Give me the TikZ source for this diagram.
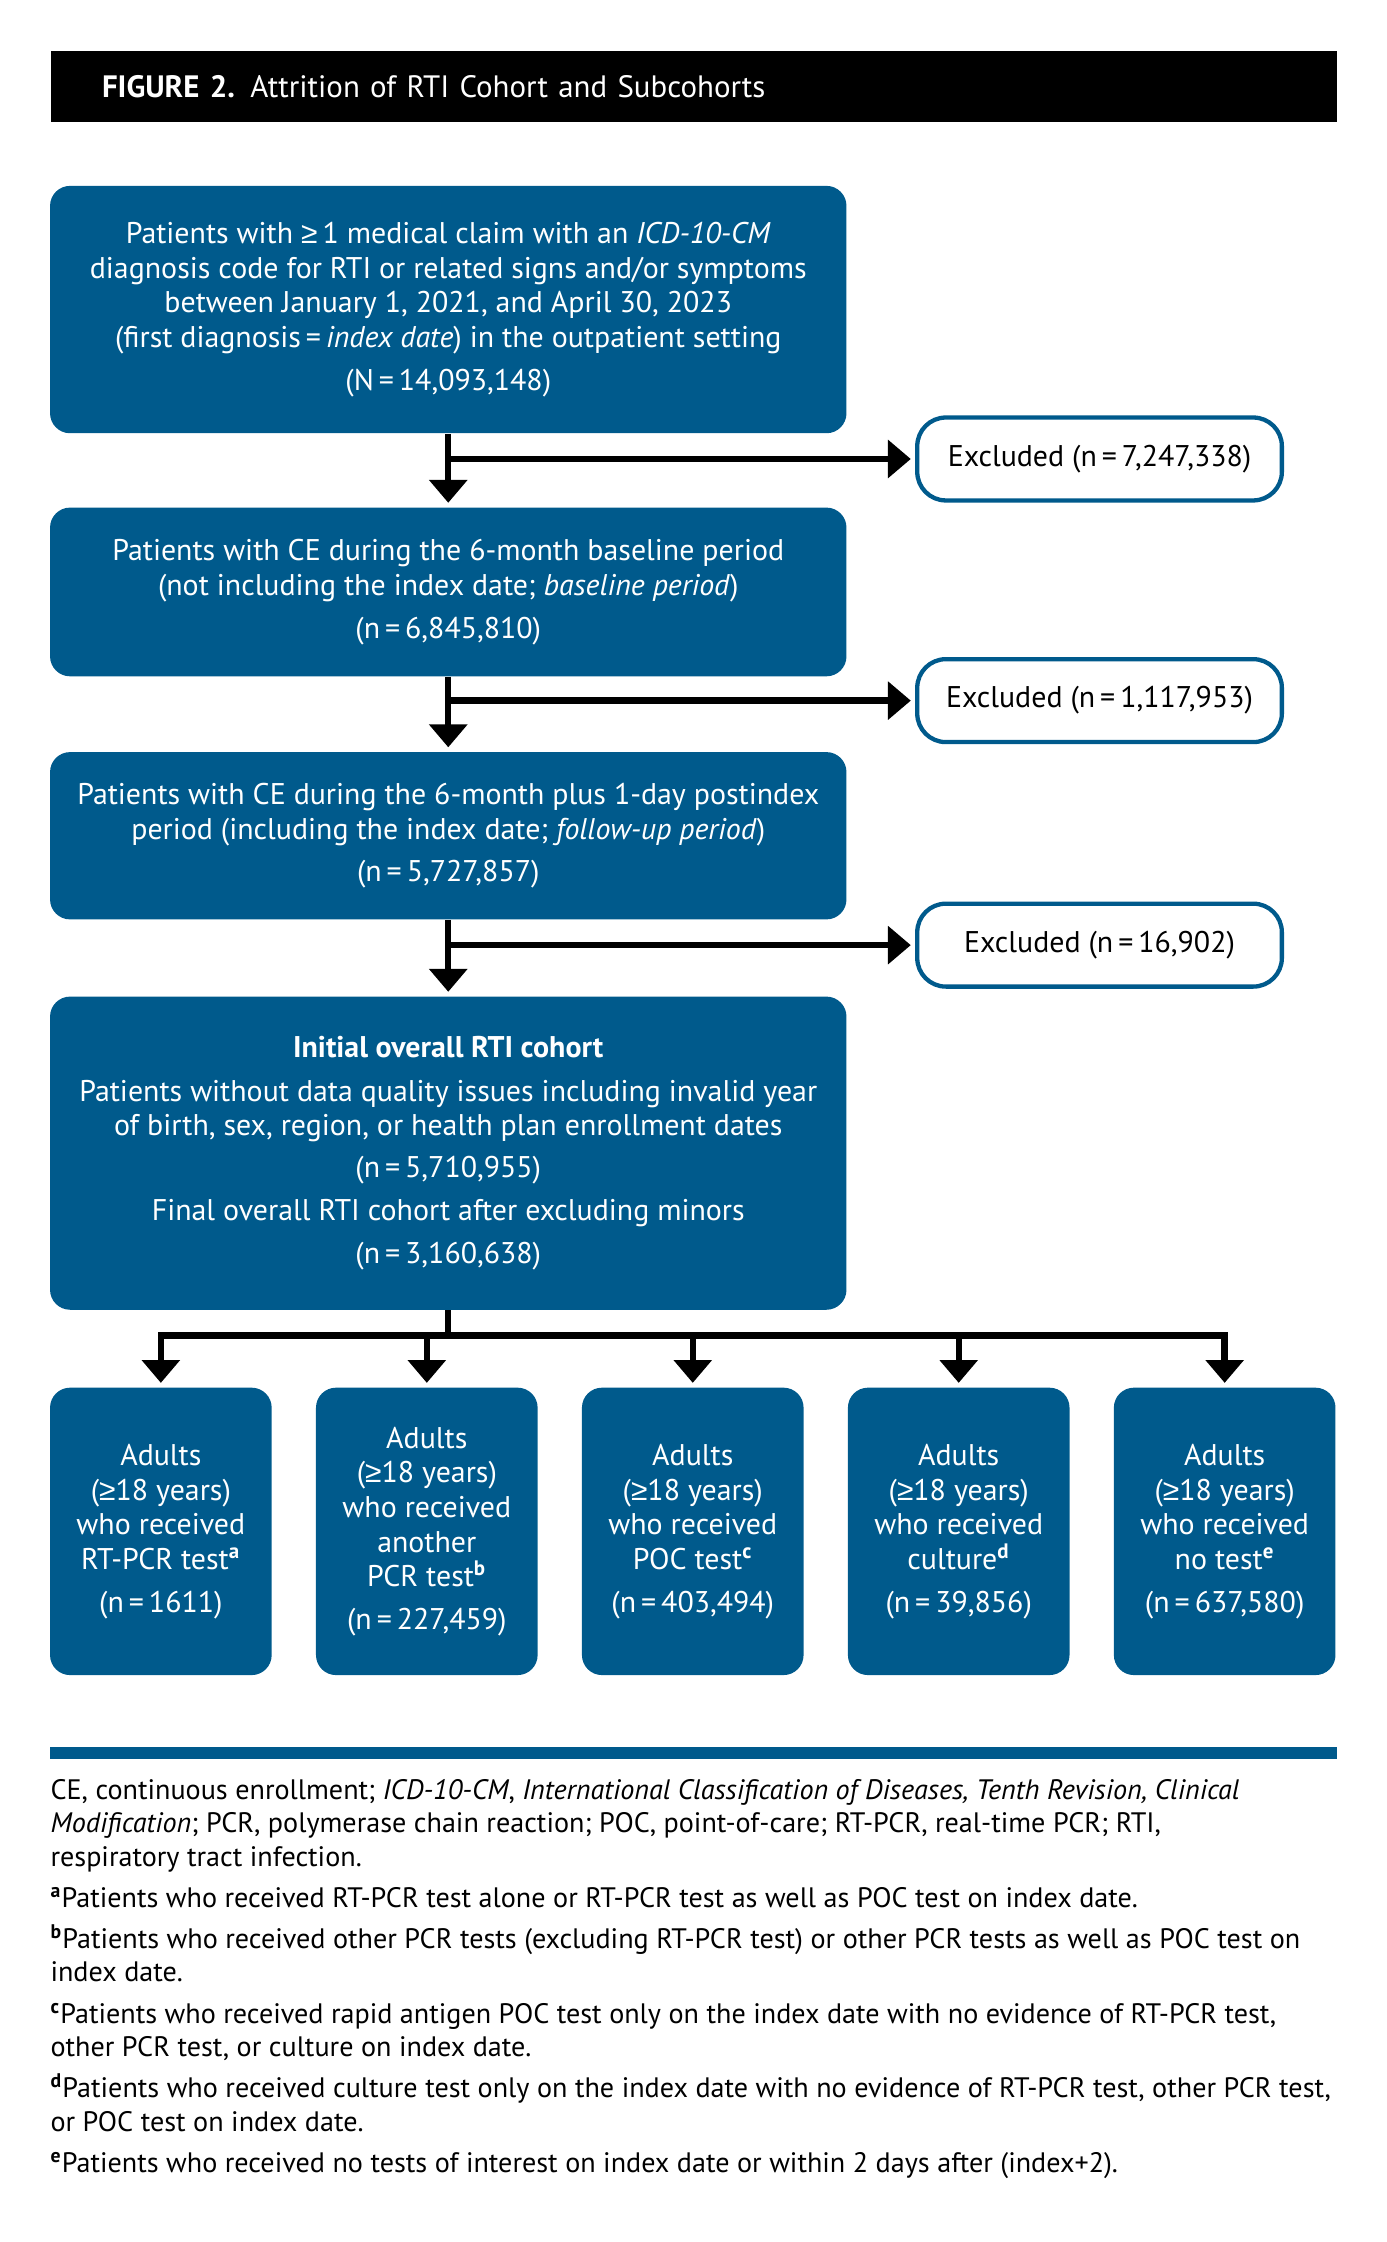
\documentclass[tikz,border=0pt]{standalone}
\usepackage{fontspec}
\setmainfont{PT Sans}
\newfontfamily\symfont{Liberation Sans}
\usepackage{xcolor}
\usetikzlibrary{positioning,arrows.meta}

\definecolor{rtiblue}{RGB}{0,90,140}
\newcommand{\atleast}{{\symfont ≥}}

\tikzset{
  stage/.style={fill=rtiblue, text=white, rounded corners=2.8mm, align=center,
    inner sep=0pt, minimum width=111.4mm, font=\fontsize{11.9}{13.8}\selectfont},
  excl/.style={draw=rtiblue, line width=0.6mm, fill=white, rounded corners=4mm,
    align=center, inner sep=0pt, minimum width=51mm, minimum height=11.6mm,
    font=\fontsize{11.9}{13.8}\selectfont},
  subbox/.style={fill=rtiblue, text=white, rounded corners=2.8mm, align=center,
    inner sep=0pt, minimum width=31mm, minimum height=40.2mm,
    font=\fontsize{11.9}{13.8}\selectfont},
  link/.style={line width=0.9mm},
  arr/.style={line width=0.9mm, -{Triangle[length=3.2mm,width=5.2mm]}, shorten >=0.6mm},
}

\begin{document}
\begin{tikzpicture}[x=0.2mm, y=-0.2mm]
      \useasboundingbox (0,0) rectangle (970,1568);

      % Title bar
      \node[fill=black, text=white, anchor=north west, inner xsep=7.2mm, inner ysep=0pt,
        minimum height=10mm, text width=165.6mm, align=left,
        font=\fontsize{12.3}{15}\selectfont] (title) at (35,35)
        {{\bfseries FIGURE 2.} Attrition of RTI Cohort and Subcohorts};

      % Define the nodes of the main column
      \node[stage, minimum height=34.6mm] (claims) at (313.5,216.5)
        {Patients with \atleast\,1 medical claim with an \textit{ICD-10-CM}\\
         diagnosis code for RTI or related signs and/or symptoms\\
         between January 1, 2021, and April 30, 2023\\
         (first diagnosis\,=\,\textit{index date}) in the outpatient setting\\[3.2pt]
         (N\,=\,14,093,148)};
      \node[stage, minimum height=23.6mm] (baseline) at (313.5,414)
        {Patients with CE during the 6-month baseline period\\
         (not including the index date; \textit{baseline period})\\[3.2pt]
         (n\,=\,6,845,810)};
      \node[stage, minimum height=23.4mm] (followup) at (313.5,584.5)
        {Patients with CE during the 6-month plus 1-day postindex\\
         period (including the index date; \textit{follow-up period})\\[3.2pt]
         (n\,=\,5,727,857)};
      \node[stage, minimum height=43.8mm] (cohort) at (313.5,806.5)
        {\textbf{Initial overall RTI cohort}\\[3.6pt]
         Patients without data quality issues including invalid year\\
         of birth, sex, region, or health plan enrollment dates\\[2.6pt]
         (n\,=\,5,710,955)\\[3.6pt]
         Final overall RTI cohort after excluding minors\\[3.2pt]
         (n\,=\,3,160,638)};

      % Define the excluded nodes
      \node[excl] (ex1) at (769,321) {Excluded (n\,=\,7,247,338)};
      \node[excl] (ex2) at (769,490) {Excluded (n\,=\,1,117,953)};
      \node[excl] (ex3) at (769,661) {Excluded (n\,=\,16,902)};

      % Define the subcohort nodes
      \node[subbox] (rtpcr) at (112.5,1071)
        {Adults\\(\atleast18 years)\\who received\\RT-PCR test\textsuperscript{\bfseries a}\\[3.2pt](n\,=\,1611)};
      \node[subbox] (pcr) at (298.5,1071)
        {Adults\\(\atleast18 years)\\who received\\another\\PCR test\textsuperscript{\bfseries b}\\[3.2pt](n\,=\,227,459)};
      \node[subbox] (poc) at (484.5,1071)
        {Adults\\(\atleast18 years)\\who received\\POC test\textsuperscript{\bfseries c}\\[3.2pt](n\,=\,403,494)};
      \node[subbox] (culture) at (670.5,1071)
        {Adults\\(\atleast18 years)\\who received\\culture\textsuperscript{\bfseries d}\\[3.2pt](n\,=\,39,856)};
      \node[subbox] (notest) at (856.5,1071)
        {Adults\\(\atleast18 years)\\who received\\no test\textsuperscript{\bfseries e}\\[3.2pt](n\,=\,637,580)};

      % Draw the arrows of the main column
      \draw[arr] (claims.south) -- (baseline.north);
      \draw[arr] (baseline.south) -- (followup.north);
      \draw[arr] (followup.south) -- (cohort.north);
      \draw[arr] (claims.south |- ex1.west) -- (ex1.west);
      \draw[arr] (baseline.south |- ex2.west) -- (ex2.west);
      \draw[arr] (followup.south |- ex3.west) -- (ex3.west);

      % Draw the split into the subcohorts
      \coordinate (hub) at (313.5,934);
      \draw[link] (cohort.south) -- (hub);
      \draw[link, line cap=rect] (rtpcr.north |- hub) -- (notest.north |- hub);
      \foreach \sub in {rtpcr,pcr,poc,culture,notest}
        \draw[arr] (\sub.north |- hub) -- (\sub.north);

      % Footnotes
      \fill[rtiblue] (35,1222) rectangle (935,1230);
      \node[anchor=north west, align=left, inner sep=0pt,
        font=\fontsize{11.2}{13.3}\selectfont] (notes) at (35,1244)
        {CE, continuous enrollment; \textit{ICD-10-CM}, \textit{International Classification of Diseases, Tenth Revision, Clinical}\\
         \textit{Modification}; PCR, polymerase chain reaction; POC, point-of-care; RT-PCR, real-time PCR; RTI,\\
         respiratory tract infection.\\[3.1pt]
         \textsuperscript{\bfseries a}Patients who received RT-PCR test alone or RT-PCR test as well as POC test on index date.\\[3.1pt]
         \textsuperscript{\bfseries b}Patients who received other PCR tests (excluding RT-PCR test) or other PCR tests as well as POC test on\\
         index date.\\[3.1pt]
         \textsuperscript{\bfseries c}Patients who received rapid antigen POC test only on the index date with no evidence of RT-PCR test,\\
         other PCR test, or culture on index date.\\[3.1pt]
         \textsuperscript{\bfseries d}Patients who received culture test only on the index date with no evidence of RT-PCR test, other PCR test,\\
         or POC test on index date.\\[3.1pt]
         \textsuperscript{\bfseries e}Patients who received no tests of interest on index date or within 2 days after (index+2).};
\end{tikzpicture}
\end{document}
